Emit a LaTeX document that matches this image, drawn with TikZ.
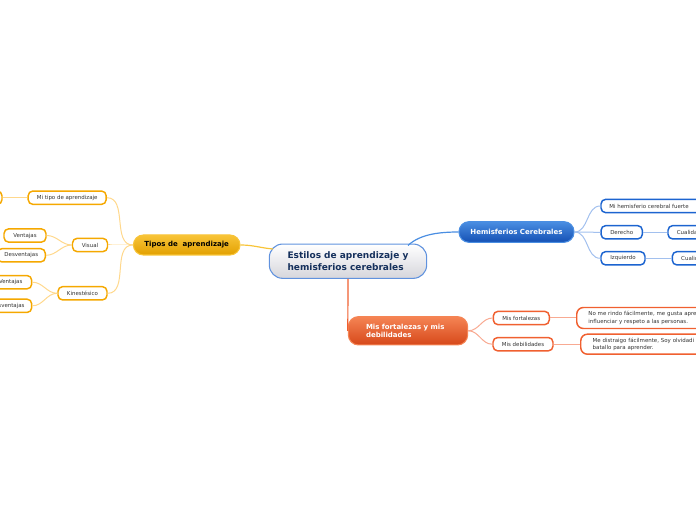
\documentclass[tikz,border=0pt]{standalone}
\usepackage{fontspec}
\setmainfont{DejaVu Sans}
\usepackage{xcolor}
\usepackage{tikz}

\definecolor{ink}{HTML}{333333}
\definecolor{navy}{HTML}{15305C}
\definecolor{goldtop}{HTML}{F8C438}
\definecolor{goldbot}{HTML}{E2A000}
\definecolor{goldrim}{HTML}{F5A800}
\definecolor{goldline}{HTML}{FFD88C}
\definecolor{bluetop}{HTML}{4A8EE2}
\definecolor{bluebot}{HTML}{1450B4}
\definecolor{bluerim}{HTML}{1C64D0}
\definecolor{blueline}{HTML}{A2C0EE}
\definecolor{redtop}{HTML}{F58454}
\definecolor{redbot}{HTML}{D6481A}
\definecolor{redrim}{HTML}{F06030}
\definecolor{redline}{HTML}{F8AA92}

\begin{document}
\begin{tikzpicture}[x=0.75pt, y=-0.75pt,
    leaf/.style={draw, line width=1.1pt, fill=white, rounded corners=3.5pt,
        minimum height=10pt, inner sep=0pt, text=ink,
        font=\fontsize{4.1}{5.5}\selectfont},
    gleaf/.style={leaf, draw=goldrim},
    bleaf/.style={leaf, draw=bluerim},
    rleaf/.style={leaf, draw=redrim},
    topic/.style={draw, line width=0.8pt, rounded corners=7.5pt, inner sep=0pt,
        font=\fontsize{5.25}{6}\selectfont\bfseries},
    gline/.style={goldline, line width=0.75pt},
    bline/.style={blueline, line width=0.75pt},
    rline/.style={redline, line width=0.75pt}]
\useasboundingbox (0,0) rectangle (696,520);

% centre
\node[draw=bluerim!70, line width=0.8pt, rounded corners=10pt,
    top color=white, bottom color=blue!8!gray!30,
    minimum width=118pt, minimum height=25.7pt, inner sep=0pt, align=left,
    text=navy, font=\fontsize{6.75}{9}\selectfont\bfseries]
    (ctr) at (348,261.2) {Estilos de aprendizaje y\\hemisferios cerebrales};

% main topics
\node[topic, draw=goldtop, top color=goldtop, bottom color=goldbot,
    minimum width=80pt, minimum height=15pt, text=black]
    (tipos) at (186.7,245) {Tipos de\ \ aprendizaje};
\node[topic, draw=bluetop, top color=bluetop, bottom color=bluebot,
    minimum width=86.25pt, minimum height=15.5pt, text=white]
    (hem) at (516.5,232) {Hemisferios Cerebrales};
\node[topic, draw=redtop, top color=redtop, bottom color=redbot,
    minimum width=89.5pt, minimum height=21.2pt, text width=63pt,
    align=left, text=white]
    (mis) at (408,330.8) {Mis fortalezas y mis\\debilidades};

% tipos de aprendizaje
\node[gleaf, minimum width=31.5pt] (tipo0) at (-19,197.7) {};
\node[gleaf, minimum width=58.5pt] (mitipo) at (67.2,197.7) {Mi tipo de aprendizaje};
\node[gleaf, minimum width=26.25pt] (visual) at (90,245) {Visual};
\node[gleaf, minimum width=31.5pt] (vven) at (25,235.5) {Ventajas};
\node[gleaf, minimum width=36pt] (vdes) at (21.3,255.3) {Desventajas};
\node[gleaf, minimum width=36.75pt] (kines) at (82.5,293.3) {Kinestésico};
\node[gleaf, minimum width=31.5pt] (kven) at (10.7,282.2) {Ventajas};
\node[gleaf, minimum width=36pt] (kdes) at (7.7,305.8) {Desventajas};

% hemisferios
\node[bleaf, minimum width=78pt] (fuerte) at (653,206) {\hspace*{-6pt}Mi hemisferio cerebral fuerte};
\node[bleaf, minimum width=31pt] (der) at (621.7,232.3) {Derecho};
\node[bleaf, minimum width=36pt] (cua1) at (692,232.3) {Cualidades};
\node[bleaf, minimum width=33pt] (izq) at (623,258.3) {Izquierdo};
\node[bleaf, minimum width=36pt] (cua2) at (696.3,258.3) {Cualidades};

% fortalezas y debilidades
\node[rleaf, minimum width=42pt] (mfor) at (521.3,318) {Mis fortalezas};
\node[rleaf, minimum width=45pt] (mdeb) at (523,344.2) {Mis debilidades};
\node[rleaf, anchor=west, rounded corners=5pt, minimum height=15.75pt,
    inner xsep=8.8pt, text width=97.5pt, align=left]
    (tfor) at (576,318) {No me rindo fácilmente, me gusta apre\\influenciar y respeto a las personas.};
\node[rleaf, anchor=west, rounded corners=5pt, minimum height=15pt,
    inner xsep=9pt, text width=97.5pt, align=left]
    (tdeb) at (580,344.2) {Me distraigo fácilmente, Soy olvidadi\\batallo para aprender.};

% connectors
\coordinate (ct) at (273,249);
\coordinate (ch) at (408,245.5);
\draw[goldtop, line width=0.9pt] (tipos.east) to[out=0,in=175] (ct);
\draw[bluetop, line width=0.9pt] (ch) .. controls (420,234) and (440,232) .. (hem.west);
\draw[redrim, line width=0.9pt] (ctr.south) -- (mis.west);

\foreach \c in {mitipo,visual,kines}{
    \draw[gline] (tipos.west) to[out=180,in=0] (\c.east);
}
\draw[gline] (mitipo.west) -- (tipo0.east);
\foreach \c in {vven,vdes}{
    \draw[gline] (visual.west) to[out=180,in=0] (\c.east);
}
\foreach \c in {kven,kdes}{
    \draw[gline] (kines.west) to[out=180,in=0] (\c.east);
}

\foreach \c in {fuerte,der,izq}{
    \draw[bline] (hem.east) to[out=0,in=180] (\c.west);
}
\draw[bline] (der.east) -- (cua1.west);
\draw[bline] (izq.east) -- (cua2.west);

\foreach \c in {mfor,mdeb}{
    \draw[rline] (mis.east) to[out=0,in=180] (\c.west);
}
\draw[rline] (mfor.east) -- (tfor.west);
\draw[rline] (mdeb.east) -- (tdeb.west);
\end{tikzpicture}
\end{document}
